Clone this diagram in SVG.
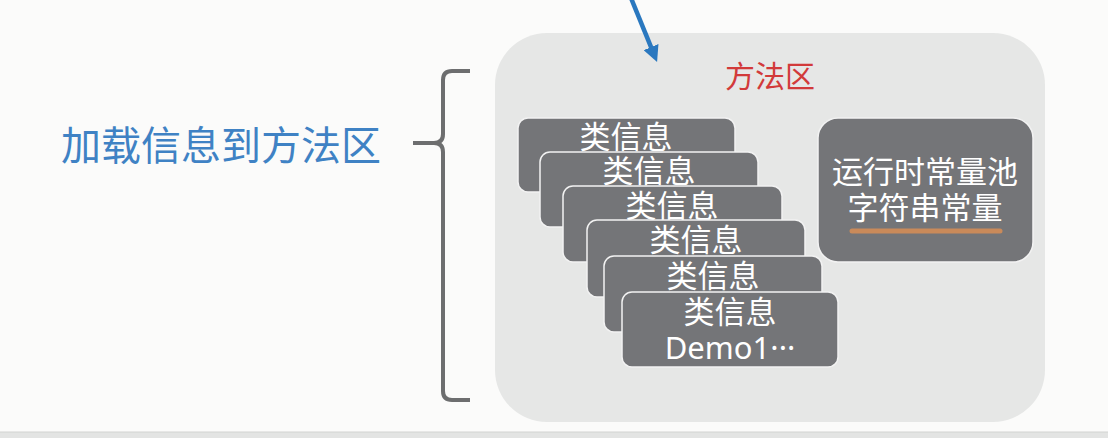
<svg xmlns="http://www.w3.org/2000/svg" width="1108" height="438" viewBox="0 0 1108 438">
<style>
text{font-family:"Noto Sans CJK SC","Noto Sans",sans-serif}
.cls rect{fill:#747578;stroke:#f2f2f2;stroke-width:1.5}
.cls text{fill:#ffffff;font-size:31px;text-anchor:middle}
.cls text.lat{font-family:"Noto Sans","Noto Sans CJK SC",sans-serif;font-size:31px}
</style>
<defs>
<marker id="ah" markerWidth="16" markerHeight="16" refX="6" refY="8" orient="auto" markerUnits="userSpaceOnUse" viewBox="0 0 16 16">
<path d="M0,0 L16,8 L0,16 Z" fill="#2a78bf"/>
</marker>
</defs>
<rect width="1108" height="438" fill="#fbfbfa"/>
<rect x="0" y="432" width="1108" height="6" fill="#e3e4e3"/>
<line x1="0" y1="432" x2="1108" y2="432" stroke="#d2d3d2" stroke-width="1"/>

<g id="title">
<text x="61" y="160" font-size="40" fill="#3f82c4">加载信息到方法区</text>
</g>

<g id="method-area">
<rect x="495" y="33" width="550" height="389" rx="52" fill="#e6e7e6"/>
<text x="770" y="87" font-size="30" fill="#d23a3a" text-anchor="middle">方法区</text>
</g>

<g id="class1" class="cls"><rect x="518" y="118" width="217" height="74" rx="10"/><text x="626" y="148">类信息</text></g>
<g id="class2" class="cls"><rect x="540" y="152" width="218" height="75" rx="10"/><text x="649" y="182">类信息</text></g>
<g id="class3" class="cls"><rect x="563" y="186" width="219" height="76" rx="10"/><text x="672" y="217">类信息</text></g>
<g id="class4" class="cls"><rect x="587" y="220" width="218" height="77" rx="10"/><text x="696" y="251">类信息</text></g>
<g id="class5" class="cls"><rect x="604" y="256" width="218" height="76" rx="10"/><text x="713" y="287">类信息</text></g>
<g id="class6" class="cls"><rect x="622" y="292" width="216" height="75" rx="10"/><text x="730" y="323">类信息</text><text class="lat" x="730" y="359">Demo1···</text></g>

<g id="runtime-pool">
<rect x="818" y="118" width="215" height="144" rx="20" fill="#747578" stroke="#f2f2f2" stroke-width="1.5"/>
<text x="925" y="183" font-size="31" fill="#ffffff" text-anchor="middle">运行时常量池</text>
<text x="925" y="219" font-size="31" fill="#ffffff" text-anchor="middle">字符串常量</text>
<line x1="852" y1="231" x2="1000" y2="231" stroke="#c98a5a" stroke-width="5" stroke-linecap="round"/>
</g>

<g id="connectors">
<path d="M470,71 L452,71 Q443,71 443,80 L443,134 Q443,143 434,143 L413,143 M434,143 Q443,143 443,152 L443,391 Q443,400 452,400 L470,400" fill="none" stroke="#6d6e6f" stroke-width="4"/>
<line x1="631" y1="-2" x2="653.3" y2="52.7" stroke="#2a78bf" stroke-width="4.5" marker-end="url(#ah)"/>
</g>
</svg>
